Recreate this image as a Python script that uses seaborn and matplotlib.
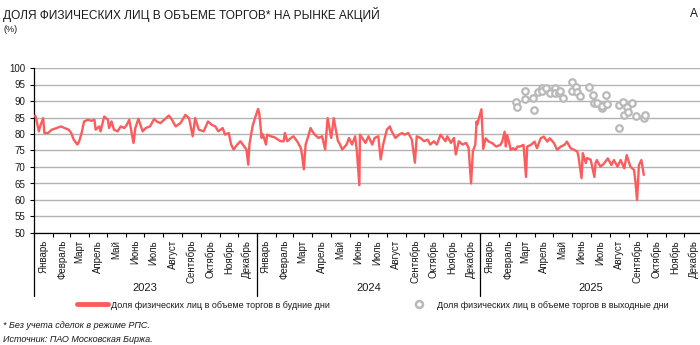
import matplotlib
matplotlib.use("Agg")
import matplotlib.pyplot as plt
import matplotlib.dates as mdates
import matplotlib.transforms as mtransforms
from matplotlib.lines import Line2D
import seaborn as sns
import pandas as pd

title = "ДОЛЯ ФИЗИЧЕСКИХ ЛИЦ В ОБЪЕМЕ ТОРГОВ* НА РЫНКЕ АКЦИЙ"
unit_label = "(%)"
label_weekday = "Доля физических лиц в объеме торгов в будние дни"
label_weekend = "Доля физических лиц в объеме торгов в выходные дни"
footnote = "* Без учета сделок в режиме РПС."
source = "Источник: ПАО Московская Биржа."
months_ru = ["Январь", "Февраль", "Март", "Апрель", "Май", "Июнь", "Июль",
             "Август", "Сентябрь", "Октябрь", "Ноябрь", "Декабрь"]
years = [2023, 2024, 2025]
y_ticks = [50, 55, 60, 65, 70, 75, 80, 85, 90, 95, 100]

weekday_dates = [
    "2023-01-03", "2023-01-04", "2023-01-09", "2023-01-11", "2023-01-16", "2023-01-18", "2023-01-24", "2023-01-30",
    "2023-02-07", "2023-02-14", "2023-02-20", "2023-02-27", "2023-03-03", "2023-03-07", "2023-03-13", "2023-03-16",
    "2023-03-20", "2023-03-24", "2023-03-30", "2023-04-05", "2023-04-10", "2023-04-12", "2023-04-18", "2023-04-20",
    "2023-04-26", "2023-05-02", "2023-05-04", "2023-05-08", "2023-05-12", "2023-05-18", "2023-05-23", "2023-05-29",
    "2023-06-02", "2023-06-06", "2023-06-08", "2023-06-13", "2023-06-16", "2023-06-21", "2023-06-28", "2023-07-03",
    "2023-07-10", "2023-07-17", "2023-07-21", "2023-07-27", "2023-08-02", "2023-08-10", "2023-08-15", "2023-08-21",
    "2023-08-29", "2023-09-06", "2023-09-12", "2023-09-18", "2023-09-22", "2023-09-28", "2023-10-06", "2023-10-13",
    "2023-10-19", "2023-10-25", "2023-10-30", "2023-11-06", "2023-11-10", "2023-11-16", "2023-11-20", "2023-11-24",
    "2023-11-30", "2023-12-05", "2023-12-11", "2023-12-15", "2023-12-18", "2023-12-20", "2023-12-25", "2023-12-29",
    "2024-01-03", "2024-01-05", "2024-01-09", "2024-01-10", "2024-01-12", "2024-01-16", "2024-01-18", "2024-01-24",
    "2024-01-30", "2024-02-05", "2024-02-09", "2024-02-14", "2024-02-16", "2024-02-20", "2024-02-26", "2024-03-01",
    "2024-03-07", "2024-03-13", "2024-03-15", "2024-03-18", "2024-03-21", "2024-03-26", "2024-03-29", "2024-04-01",
    "2024-04-05", "2024-04-11", "2024-04-17", "2024-04-22", "2024-04-26", "2024-05-02", "2024-05-06", "2024-05-13",
    "2024-05-15", "2024-05-20", "2024-05-27", "2024-05-31", "2024-06-05", "2024-06-10", "2024-06-13", "2024-06-17",
    "2024-06-18", "2024-06-27", "2024-07-02", "2024-07-08", "2024-07-12", "2024-07-18", "2024-07-22", "2024-07-26",
    "2024-08-01", "2024-08-06", "2024-08-09", "2024-08-15", "2024-08-21", "2024-08-26", "2024-08-30", "2024-09-05",
    "2024-09-11", "2024-09-16", "2024-09-19", "2024-09-25", "2024-10-01", "2024-10-07", "2024-10-11", "2024-10-17",
    "2024-10-22", "2024-10-28", "2024-11-05", "2024-11-08", "2024-11-14", "2024-11-19", "2024-11-22", "2024-11-27",
    "2024-12-03", "2024-12-09", "2024-12-13", "2024-12-17", "2024-12-20", "2024-12-24", "2024-12-26", "2024-12-27",
    "2025-01-03", "2025-01-06", "2025-01-10", "2025-01-15", "2025-01-21", "2025-01-27", "2025-02-03", "2025-02-06",
    "2025-02-10", "2025-02-12", "2025-02-14", "2025-02-17", "2025-02-20", "2025-02-24", "2025-02-28", "2025-03-03",
    "2025-03-07", "2025-03-13", "2025-03-17", "2025-03-19", "2025-03-25", "2025-03-31", "2025-04-04", "2025-04-10",
    "2025-04-15", "2025-04-21", "2025-04-25", "2025-05-02", "2025-05-07", "2025-05-13", "2025-05-19", "2025-05-23",
    "2025-05-29", "2025-06-04", "2025-06-09", "2025-06-11", "2025-06-16", "2025-06-18", "2025-06-23", "2025-06-25",
    "2025-07-01", "2025-07-07", "2025-07-09", "2025-07-11", "2025-07-17", "2025-07-23", "2025-07-29", "2025-08-04",
    "2025-08-08", "2025-08-14", "2025-08-19", "2025-08-25", "2025-08-29", "2025-09-04", "2025-09-10", "2025-09-12",
    "2025-09-15", "2025-09-18", "2025-09-22", "2025-09-26",
]
weekday_share = [
    85.6, 85.0, 80.8, 82.3, 84.8, 80.3, 80.3, 81.3,
    81.8, 82.3, 81.8, 81.3, 80.3, 78.3, 76.8, 77.8,
    80.3, 83.8, 84.3, 84.0, 84.3, 81.3, 82.3, 80.8,
    85.3, 84.3, 81.8, 83.8, 81.3, 80.8, 82.3, 81.8,
    82.8, 84.3, 82.3, 77.3, 81.8, 84.6, 80.8, 81.8,
    82.3, 84.6, 83.8, 83.3, 84.3, 85.6, 84.3, 82.3,
    83.3, 85.8, 84.8, 79.3, 84.8, 81.3, 80.8, 83.8,
    82.8, 82.3, 80.8, 81.8, 79.8, 80.3, 76.8, 75.3,
    76.8, 77.8, 76.3, 75.3, 70.7, 77.0, 82.3, 84.8,
    87.6, 86.3, 78.8, 80.0, 79.3, 76.8, 79.8, 79.3,
    79.0, 78.3, 77.8, 77.8, 80.3, 77.8, 78.8, 79.3,
    77.8, 75.8, 73.8, 69.3, 76.8, 79.8, 81.8, 80.8,
    79.8, 78.8, 79.3, 75.3, 84.8, 78.8, 84.8, 77.8,
    77.3, 75.3, 76.8, 78.8, 76.8, 79.3, 74.8, 64.5,
    79.8, 77.3, 79.3, 76.8, 78.8, 79.3, 72.3, 76.8,
    81.3, 82.3, 80.8, 78.8, 79.8, 80.3, 79.8, 80.3,
    78.3, 71.3, 79.3, 78.8, 77.8, 78.3, 76.8, 77.8,
    76.8, 79.8, 77.8, 79.3, 77.3, 78.8, 73.8, 77.8,
    76.8, 77.3, 75.8, 65.0, 74.8, 76.8, 83.8, 82.8,
    87.5, 75.5, 78.7, 77.7, 77.2, 76.2, 76.7, 77.7,
    80.7, 76.2, 79.7, 77.7, 75.2, 75.7, 75.2, 76.2,
    76.2, 76.7, 67.0, 76.2, 76.7, 77.7, 75.7, 78.7,
    79.2, 77.7, 78.7, 77.2, 75.2, 76.2, 76.7, 77.7,
    75.7, 75.2, 74.7, 73.2, 66.6, 74.2, 71.2, 72.7,
    72.2, 67.0, 71.2, 72.1, 70.1, 71.1, 72.6, 70.6,
    72.1, 70.1, 72.1, 69.6, 73.6, 70.1, 69.1, 66.1,
    60.0, 70.6, 72.1, 67.6,
]

weekend_dates = [
    "2025-03-01", "2025-03-02", "2025-03-15", "2025-03-16", "2025-03-29", "2025-03-30", "2025-04-05", "2025-04-12",
    "2025-04-13", "2025-04-19", "2025-04-26", "2025-05-03", "2025-05-04", "2025-05-10", "2025-05-11", "2025-05-17",
    "2025-05-31", "2025-06-01", "2025-06-07", "2025-06-08", "2025-06-14", "2025-06-28", "2025-07-05", "2025-07-06",
    "2025-07-12", "2025-07-19", "2025-07-20", "2025-07-26", "2025-07-27", "2025-08-16", "2025-08-17", "2025-08-23",
    "2025-08-24", "2025-08-30", "2025-08-31", "2025-09-06", "2025-09-13", "2025-09-27", "2025-09-28",
]
weekend_share = [
    89.8, 88.3, 93.0, 90.6, 91.0, 87.3, 92.8, 93.8,
    93.1, 93.8, 92.3, 93.8, 92.3, 92.5, 93.0, 90.8,
    95.7, 93.0, 94.3, 92.8, 91.5, 94.3, 91.8, 89.3,
    89.3, 87.8, 88.5, 91.8, 89.1, 88.8, 81.9, 89.8,
    85.8, 88.3, 86.8, 89.3, 85.6, 84.7, 85.8,
]

RED = "#ff5b5b"
GREY = "#b9b9b9"
GRID = "#b3b3b3"
TXT = "#1a1a1a"

sns.set_theme(style="white")
plt.rcParams["font.family"] = ["Liberation Sans", "DejaVu Sans"]

wd = pd.DataFrame({"date": pd.to_datetime(weekday_dates), "share": weekday_share})
we = pd.DataFrame({"date": pd.to_datetime(weekend_dates), "share": weekend_share})

fig = plt.figure(figsize=(7.0, 3.45), dpi=100)
W, H = 700, 345
ax = fig.add_axes([34 / W, 1 - 233 / H, (703 - 34) / W, (233 - 68) / H])

sns.lineplot(data=wd, x="date", y="share", ax=ax, color=RED, linewidth=1.7, zorder=3)
sns.scatterplot(data=we, x="date", y="share", ax=ax, s=22, facecolor="white",
                edgecolor=GREY, linewidth=1.6, zorder=4)

start = pd.Timestamp(f"{years[0]}-01-01")
end = pd.Timestamp(f"{years[-1] + 1}-01-01")
ax.set_xlim(start, end)
ax.set_ylim(y_ticks[0], y_ticks[-1])
ax.set_yticks(y_ticks)
ax.yaxis.grid(True, color=GRID, linewidth=1.0)
ax.set_axisbelow(True)
ax.set_xlabel("")
ax.set_ylabel("")
for s in ["top", "right"]:
    ax.spines[s].set_visible(False)
for s in ["left", "bottom"]:
    ax.spines[s].set_color("black")
    ax.spines[s].set_linewidth(0.9)

ax.tick_params(axis="y", direction="out", length=3, width=0.8, color="black",
               labelsize=7, labelcolor=TXT, pad=3, left=True)

# month ticks at boundaries, labels centred in each month
month_starts = pd.date_range(start, end, freq="MS")
month_mids = month_starts[:-1] + pd.Timedelta(days=15)
ax.set_xticks(month_starts)
ax.set_xticklabels([])
ax.set_xticks(month_mids, minor=True)
ax.set_xticklabels([months_ru[d.month - 1] for d in month_mids], minor=True,
                   rotation=90, fontsize=7, color=TXT)
ax.tick_params(axis="x", which="major", direction="out", length=3, width=0.8,
               color="black", bottom=True)
ax.tick_params(axis="x", which="minor", length=0, pad=5, bottom=True)

trans = mtransforms.blended_transform_factory(ax.transData, ax.transAxes)
for yr in years + [years[-1] + 1]:
    xd = mdates.date2num(pd.Timestamp(f"{yr}-01-01"))
    ax.plot([xd, xd], [0, -0.38], transform=trans, color="black", lw=0.9,
            clip_on=False, zorder=5)
for yr in years:
    xd = mdates.date2num(pd.Timestamp(f"{yr}-07-02"))
    ax.text(xd, -0.335, str(yr), transform=trans, ha="center", va="center",
            fontsize=8, color=TXT)

# titles and notes
fig.text(3 / W, 1 - 14 / H, title, ha="left", va="center", fontsize=8.6, color=TXT)
fig.text(690 / W, 1 - 14 / H, "А", ha="left", va="center", fontsize=8.6, color=TXT)
fig.text(3 / W, 1 - 29 / H, unit_label, ha="left", va="center", fontsize=6.5, color=TXT)
fig.text(3 / W, 1 - 325 / H, footnote, ha="left", va="center", fontsize=6.5,
         color=TXT, style="italic")
fig.text(3 / W, 1 - 340 / H, source, ha="left", va="center", fontsize=6.5,
         color=TXT, style="italic")

handles = [Line2D([], [], color=RED, lw=3.5),
           Line2D([], [], color=GREY, marker="o", linestyle="none", markersize=5,
                  markerfacecolor="white", markeredgewidth=1.8)]
fig.legend(handles, [label_weekday, label_weekend], ncol=2, loc="center",
           bbox_to_anchor=(373 / W, 1 - 305 / H), frameon=False, fontsize=6.5,
           handlelength=3.5, handletextpad=0.25, columnspacing=8.2,
           labelcolor=TXT)

fig.savefig("out.png", dpi=100)
